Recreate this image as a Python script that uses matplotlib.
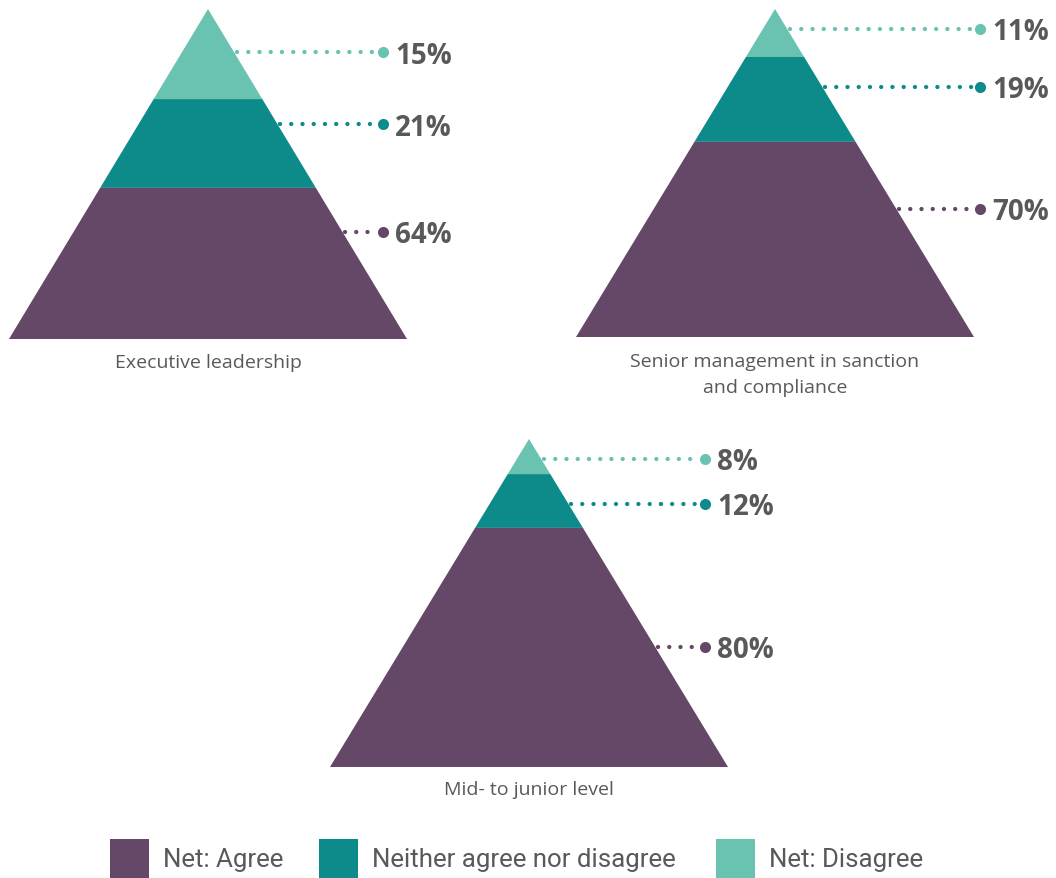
import matplotlib
matplotlib.use("Agg")
import matplotlib.pyplot as plt
from matplotlib.patches import Polygon, Rectangle

# ---- data ----
groups = ["Executive leadership", "Senior management in sanction\nand compliance", "Mid- to junior level"]
series = ["Net: Agree", "Neither agree nor disagree", "Net: Disagree"]
agree = [64, 70, 80]
neither = [21, 19, 12]
disagree = [15, 11, 8]

# ---- style / layout ----
colors = {"Net: Agree": "#654867", "Neither agree nor disagree": "#0d8b8b", "Net: Disagree": "#6ac3b1"}
text_color = "#595959"
# pyramid layout in pixel coords: apex x, apex y, base y, half width
pyr = [(208, 10, 340, 199), (775, 10, 338, 199), (529, 440, 768, 199)]
# boundary fractions (from apex) of top/middle segment edges
bounds = [(0.273, 0.542), (0.146, 0.405), (0.107, 0.271)]
# label y positions (disagree, neither, agree), dot x
label_y = [(53, 125, 233), (30, 88, 210), (460, 505, 648)]
dot_x = [383, 980, 705]
caption_top = [354, 353, 781]

W, H = 1056, 879
fig = plt.figure(figsize=(W / 100, H / 100), dpi=100)
ax = fig.add_axes([0, 0, 1, 1])
ax.set_xlim(0, W)
ax.set_ylim(H, 0)
ax.axis("off")

def edge_x(p, y):
    cx, ty, by, hw = p
    return cx + hw * (y - ty) / (by - ty)

for i, p in enumerate(pyr):
    cx, ty, by, hw = p
    f1, f2 = bounds[i]
    y1 = ty + f1 * (by - ty)
    y2 = ty + f2 * (by - ty)
    segs = [("Net: Disagree", ty, y1), ("Neither agree nor disagree", y1, y2), ("Net: Agree", y2, by)]
    for name, ya, yb in segs:
        xa = edge_x(p, ya) - cx
        xb = edge_x(p, yb) - cx
        poly = Polygon([(cx - xa, ya), (cx + xa, ya), (cx + xb, yb), (cx - xb, yb)],
                       closed=True, facecolor=colors[name], edgecolor="none", zorder=2)
        ax.add_patch(poly)
    vals = [disagree[i], neither[i], agree[i]]
    names = ["Net: Disagree", "Neither agree nor disagree", "Net: Agree"]
    for v, name, ly in zip(vals, names, label_y[i]):
        xs = edge_x(p, ly) + 3
        ax.plot([xs, dot_x[i] - 8], [ly, ly], color=colors[name], lw=3.1,
                linestyle=(0, (0.01, 2.6)), dash_capstyle="round", zorder=3)
        ax.plot([dot_x[i]], [ly], "o", color=colors[name], ms=8, mew=0, zorder=3)
        ax.text(dot_x[i] + 12, ly + 3, f"{v}%", color=text_color, fontsize=20,
                fontweight="bold", family="Open Sans", ha="left", va="center", zorder=4)
    ax.text(cx, caption_top[i], groups[i], color=text_color, fontsize=14, family="Open Sans",
            ha="center", va="top", linespacing=1.55)

# legend
leg_x = [110, 319, 716]
for name, lx in zip(series, leg_x):
    ax.add_patch(Rectangle((lx, 840), 39, 40, facecolor=colors[name], edgecolor="none"))
    ax.text(lx + 53, 860, name, color=text_color, fontsize=18.6, family="Roboto",
            ha="left", va="center")

fig.savefig("out.png", dpi=100)
